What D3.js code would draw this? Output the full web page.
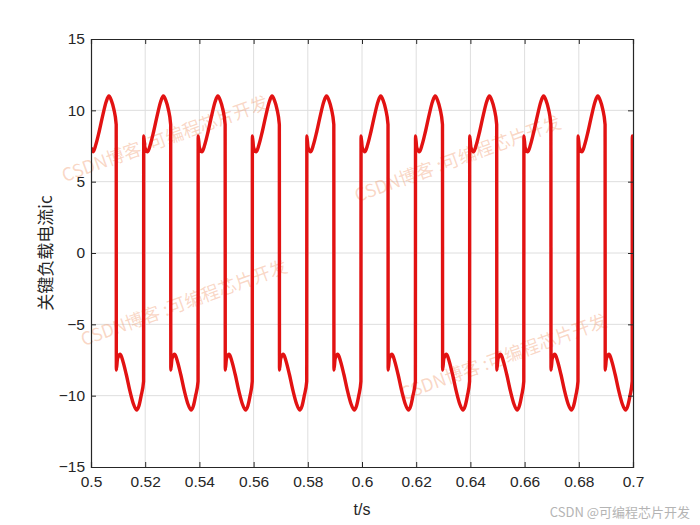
<!DOCTYPE html>
<html><head><meta charset="utf-8">
<script src="https://cdn.jsdelivr.net/npm/d3@7"></script>
<style>body{margin:0;background:#fff}svg{display:block}</style>
</head><body><div id="chart"></div>
<script>
const xTicks = [0.5,0.52,0.54,0.56,0.58,0.6,0.62,0.64,0.66,0.68,0.7];
const yTicks = [-15,-10,-5,0,5,10,15];
const xLabel = "t/s";
const yLabel = "关键负载电流ic";
const watermarkText = "CSDN博客 :可编程芯片开发";
const footerText = "CSDN @可编程芯片开发";
// [t (s), ic]
const icPoints = [
[0.5000,7.4],[0.5008,7.1],[0.5018,7.6],[0.5030,8.5],[0.5044,9.7],[0.5056,10.6],[0.5066,11.0],[0.5075,10.7],[0.5084,10.1],[0.5093,9.0],
[0.50935,-8.2],[0.5098,-7.4],[0.5108,-7.1],[0.5118,-7.6],[0.5130,-8.5],[0.5144,-9.7],[0.5157,-10.6],[0.5168,-11.0],[0.5177,-10.7],[0.5185,-10.0],[0.5194,-9.0],
[0.51945,8.2],[0.5199,7.4],[0.5209,7.1],[0.5219,7.6],[0.5231,8.5],[0.5245,9.7],[0.5257,10.6],[0.5267,11.0],[0.5276,10.7],[0.5285,10.1],[0.5294,9.0],
[0.52945,-8.2],[0.5299,-7.4],[0.5309,-7.1],[0.5319,-7.6],[0.5331,-8.5],[0.5345,-9.7],[0.5358,-10.6],[0.5369,-11.0],[0.5378,-10.7],[0.5386,-10.0],[0.5395,-9.0],
[0.53955,8.2],[0.5400,7.4],[0.5410,7.1],[0.5420,7.6],[0.5432,8.5],[0.5446,9.7],[0.5458,10.6],[0.5468,11.0],[0.5477,10.7],[0.5486,10.1],[0.5495,9.0],
[0.54955,-8.2],[0.5500,-7.4],[0.5510,-7.1],[0.5520,-7.6],[0.5532,-8.5],[0.5546,-9.7],[0.5559,-10.6],[0.5570,-11.0],[0.5579,-10.7],[0.5587,-10.0],[0.5595,-9.0],
[0.55955,8.2],[0.5600,7.4],[0.5610,7.1],[0.5620,7.6],[0.5632,8.5],[0.5646,9.7],[0.5658,10.6],[0.5668,11.0],[0.5677,10.7],[0.5686,10.1],[0.5695,9.0],
[0.56955,-8.2],[0.5700,-7.4],[0.5710,-7.1],[0.5720,-7.6],[0.5732,-8.5],[0.5746,-9.7],[0.5759,-10.6],[0.5770,-11.0],[0.5779,-10.7],[0.5787,-10.0],[0.5796,-9.0],
[0.57965,8.2],[0.5801,7.4],[0.5811,7.1],[0.5821,7.6],[0.5833,8.5],[0.5847,9.7],[0.5859,10.6],[0.5869,11.0],[0.5878,10.7],[0.5887,10.1],[0.5896,9.0],
[0.58965,-8.2],[0.5901,-7.4],[0.5911,-7.1],[0.5921,-7.6],[0.5933,-8.5],[0.5947,-9.7],[0.5960,-10.6],[0.5971,-11.0],[0.5980,-10.7],[0.5988,-10.0],[0.5996,-9.0],
[0.59965,8.2],[0.6001,7.4],[0.6011,7.1],[0.6021,7.6],[0.6033,8.5],[0.6047,9.7],[0.6059,10.6],[0.6069,11.0],[0.6078,10.7],[0.6087,10.1],[0.6096,9.0],
[0.60965,-8.2],[0.6101,-7.4],[0.6111,-7.1],[0.6121,-7.6],[0.6133,-8.5],[0.6147,-9.7],[0.6160,-10.6],[0.6171,-11.0],[0.6180,-10.7],[0.6188,-10.0],[0.6197,-9.0],
[0.61975,8.2],[0.6202,7.4],[0.6212,7.1],[0.6222,7.6],[0.6234,8.5],[0.6248,9.7],[0.6260,10.6],[0.6270,11.0],[0.6279,10.7],[0.6288,10.1],[0.6297,9.0],
[0.62975,-8.2],[0.6302,-7.4],[0.6312,-7.1],[0.6322,-7.6],[0.6334,-8.5],[0.6348,-9.7],[0.6361,-10.6],[0.6372,-11.0],[0.6381,-10.7],[0.6389,-10.0],[0.6397,-9.0],
[0.63975,8.2],[0.6402,7.4],[0.6412,7.1],[0.6422,7.6],[0.6434,8.5],[0.6448,9.7],[0.6460,10.6],[0.6470,11.0],[0.6479,10.7],[0.6488,10.1],[0.6497,9.0],
[0.64975,-8.2],[0.6502,-7.4],[0.6512,-7.1],[0.6522,-7.6],[0.6534,-8.5],[0.6548,-9.7],[0.6561,-10.6],[0.6572,-11.0],[0.6581,-10.7],[0.6589,-10.0],[0.6597,-9.0],
[0.65975,8.2],[0.6602,7.4],[0.6612,7.1],[0.6622,7.6],[0.6634,8.5],[0.6648,9.7],[0.6660,10.6],[0.6670,11.0],[0.6679,10.7],[0.6688,10.1],[0.6697,9.0],
[0.66975,-8.2],[0.6702,-7.4],[0.6712,-7.1],[0.6722,-7.6],[0.6734,-8.5],[0.6748,-9.7],[0.6761,-10.6],[0.6772,-11.0],[0.6781,-10.7],[0.6789,-10.0],[0.6797,-9.0],
[0.67975,8.2],[0.6802,7.4],[0.6812,7.1],[0.6822,7.6],[0.6834,8.5],[0.6848,9.7],[0.6860,10.6],[0.6870,11.0],[0.6879,10.7],[0.6888,10.1],[0.6897,9.0],
[0.68975,-8.2],[0.6902,-7.4],[0.6912,-7.1],[0.6922,-7.6],[0.6934,-8.5],[0.6948,-9.7],[0.6961,-10.6],[0.6972,-11.0],[0.6981,-10.7],[0.6989,-10.0],[0.6997,-9.0],
[0.69975,8.2],[0.7000,7.8]
];
// watermark anchor positions (chart coordinates: t, ic)
const watermarkAt = [[0.5275,7.9],[0.6355,6.5],[0.5345,-3.6],[0.6525,-7.4]];

const W = 700, H = 525;
const m = {left:91, right:67, top:39, bottom:58};
const svg = d3.select("#chart").append("svg").attr("width",W).attr("height",H);
const x = d3.scaleLinear().domain([0.5,0.7]).range([m.left, W-m.right]);
const y = d3.scaleLinear().domain([-15,15]).range([H-m.bottom, m.top]);
const ink = "#262626", font = "Liberation Sans, Arial, sans-serif";

// grid
const g = svg.append("g");
g.selectAll(".gx").data(xTicks.slice(1,-1)).join("line")
  .attr("x1",d=>x(d)).attr("x2",d=>x(d)).attr("y1",y(-15)).attr("y2",y(15))
  .attr("stroke","#dedede").attr("stroke-width",1);
g.selectAll(".gy").data(yTicks.slice(1,-1)).join("line")
  .attr("y1",d=>y(d)).attr("y2",d=>y(d)).attr("x1",x(0.5)).attr("x2",x(0.7))
  .attr("stroke","#dedede").attr("stroke-width",1);

// watermarks
svg.append("g").selectAll("text").data(watermarkAt).join("text")
  .attr("transform",d=>`translate(${x(d[0])},${y(d[1])}) rotate(-20)`)
  .attr("text-anchor","middle").attr("dominant-baseline","middle")
  .attr("font-family","Noto Sans CJK SC, sans-serif").attr("font-size",18).attr("font-weight","normal")
  .attr("fill","rgba(240,150,105,0.38)").text(watermarkText);

// line
svg.append("clipPath").attr("id","clip").append("rect")
  .attr("x",m.left).attr("y",m.top).attr("width",W-m.left-m.right).attr("height",H-m.top-m.bottom);
const line = d3.line().x(d=>x(d[0])).y(d=>y(d[1])).curve(d3.curveMonotoneX);
svg.append("path").datum(icPoints).attr("clip-path","url(#clip)")
  .attr("d",line).attr("fill","none").attr("stroke","#e21212").attr("stroke-width",3.4)
  .attr("stroke-linejoin","round");

// axes (MATLAB-style, inward ticks, boxed)
const tl = 5;
const axB = svg.append("g").attr("transform",`translate(0,${y(-15)})`)
  .call(d3.axisBottom(x).tickValues(xTicks).tickSize(-tl).tickPadding(9).tickFormat(d3.format("")));
const axL = svg.append("g").attr("transform",`translate(${x(0.5)},0)`)
  .call(d3.axisLeft(y).tickValues(yTicks).tickSize(-tl).tickPadding(6).tickFormat(d3.format("")));
const axT = svg.append("g").attr("transform",`translate(0,${y(15)})`)
  .call(d3.axisTop(x).tickValues(xTicks).tickSize(-tl).tickFormat(""));
const axR = svg.append("g").attr("transform",`translate(${x(0.7)},0)`)
  .call(d3.axisRight(y).tickValues(yTicks).tickSize(-tl).tickFormat(""));
[axB,axL,axT,axR].forEach(a=>{
  a.select(".domain").attr("stroke",ink).attr("stroke-width",1.2);
  a.selectAll(".tick line").attr("stroke",ink).attr("stroke-width",1);
  a.selectAll("text").attr("fill",ink).attr("font-family",font).attr("font-size",15.5);
});

// labels
svg.append("text").attr("x",x(0.6)).attr("y",515).attr("text-anchor","middle")
  .attr("font-family",font).attr("font-size",16).attr("fill",ink).text(xLabel);
svg.append("text").attr("transform",`translate(52,${y(0)}) rotate(-90)`).attr("text-anchor","middle")
  .attr("font-family","Noto Sans CJK SC, sans-serif").attr("font-size",17).attr("fill",ink).text(yLabel);
svg.append("text").attr("x",690).attr("y",517).attr("text-anchor","end")
  .attr("font-family","Noto Sans CJK SC, sans-serif").attr("font-size",13).attr("fill","#b4b4b4").text(footerText);
</script></body></html>
